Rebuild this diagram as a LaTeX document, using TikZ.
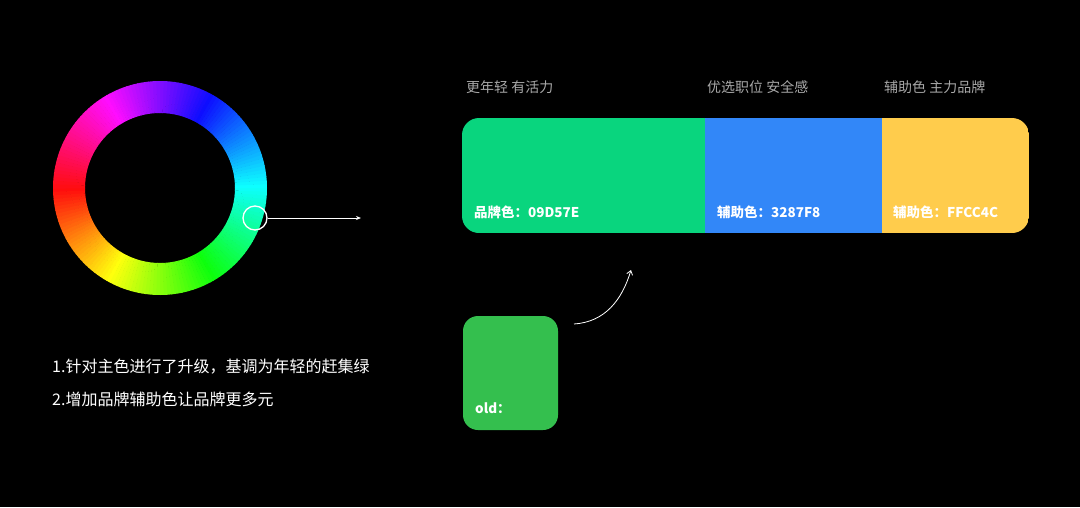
\documentclass[tikz,border=0pt]{standalone}
\usepackage{fontspec}
\newfontfamily\cjk{Noto Sans CJK SC}
\usetikzlibrary{arrows.meta}
\definecolor{cgreen}{HTML}{09D57E}
\definecolor{cblue}{HTML}{3287F8}
\definecolor{cyellow}{HTML}{FFCC4C}
\definecolor{cold}{HTML}{34BF4E}
\definecolor{cgray}{HTML}{A8A8A8}
\tikzset{
  lbl/.style={text=white,font=\cjk\fontsize{13.5}{15}\selectfont\bfseries,anchor=west,inner sep=0},
  toplbl/.style={text=cgray,font=\cjk\fontsize{14}{16}\selectfont,anchor=west,inner sep=0},
  note/.style={text=white,font=\cjk\fontsize{16}{18}\selectfont,anchor=west,inner sep=0},
  conn/.style={white,line width=0.9pt,-{Stealth[length=5pt,width=4pt]}}
}
\begin{document}
\begin{tikzpicture}[x=1pt,y=-1pt]
\fill[black] (0,0) rectangle (1080,507);
\useasboundingbox (0,0) rectangle (1080,507);
% colour wheel
\foreach \i in {0,...,179}{
  \pgfmathsetmacro{\h}{\i*2}
  \pgfmathsetmacro{\a}{-(180+\h)}
  \pgfmathsetmacro{\b}{\a-2.3}
  \definecolor{seg}{Hsb}{\h,0.95,1}
  \fill[seg] (160,188) ++(\a:107) arc[start angle=\a,end angle=\b,radius=107] -- ++(\b+180:32) arc[start angle=\b,end angle=\a,radius=75] -- cycle;
}
\node[circle,draw=white,line width=1.3pt,minimum size=24pt,inner sep=0] (pick) at (255,218) {};
\coordinate (tip) at (361,218);
\draw[conn] (pick.east) -- (tip);
\node[note] (n1) at (52,367) {1.针对主色进行了升级，基调为年轻的赶集绿};
\node[note] (n2) at (52,399) {2.增加品牌辅助色让品牌更多元};
% bar
\begin{scope}
\clip[rounded corners=17pt] (462,118) rectangle (1029,233);
\fill[cgreen] (462,118) rectangle (705,233);
\fill[cblue] (705,118) rectangle (882,233);
\fill[cyellow] (882,118) rectangle (1029,233);
\end{scope}
\node[lbl] (l1) at (474,212) {品牌色：09D57E};
\node[lbl] (l2) at (717,212) {辅助色：3287F8};
\node[lbl] (l3) at (893,212) {辅助色：FFCC4C};
\node[toplbl] (t1) at (466,87) {更年轻 有活力};
\node[toplbl] (t2) at (707,87) {优选职位 安全感};
\node[toplbl] (t3) at (884,87) {辅助色 主力品牌};
% old
\fill[cold,rounded corners=15pt] (463,316) rectangle (558,430);
\node[lbl] (old) at (475,408) {old：};
\coordinate (a0) at (574,324);
\coordinate (a1) at (631,270);
\draw[white,line width=0.8pt,-{Straight Barb[length=4pt,width=6pt]}] (a0) .. controls (605,322) and (622,300) .. (a1);
\end{tikzpicture}
\end{document}
